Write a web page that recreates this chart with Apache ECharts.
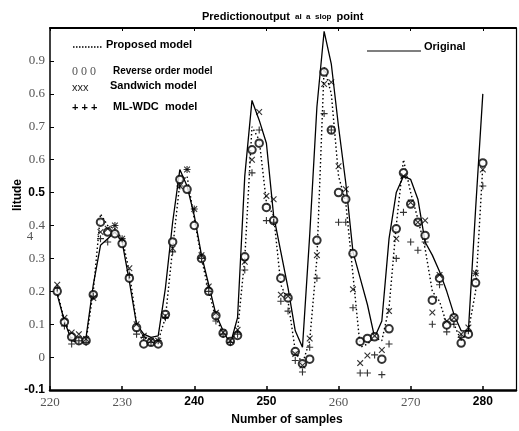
<!DOCTYPE html>
<html>
<head>
<meta charset="utf-8">
<script src="https://cdn.jsdelivr.net/npm/echarts@6/dist/echarts.min.js"></script>
<style>
  html, body { margin: 0; padding: 0; background: #fff; }
  #chart { width: 519px; height: 431px; }
</style>
</head>
<body>
<div id="chart"></div>
<script>
// sample number of each point
var samples = [221, 222, 223, 224, 225, 226, 227, 228, 229, 230,
               231, 232, 233, 234, 235, 236, 237, 238, 239, 240,
               241, 242, 243, 244, 245, 246, 247, 248, 249, 250,
               251, 252, 253, 254, 255, 256, 257, 258, 259, 260,
               261, 262, 263, 264, 265, 266, 267, 268, 269, 270,
               271, 272, 273, 274, 275, 276, 277, 278, 279, 280];

// solid line
var original = [0.19, 0.11, 0.05, 0.045, 0.06, 0.22, 0.34, 0.36, 0.38, 0.35,
                0.23, 0.10, 0.07, 0.06, 0.065, 0.21, 0.41, 0.57, 0.52, 0.43,
                0.31, 0.22, 0.13, 0.08, 0.04, 0.12, 0.55, 0.78, 0.72, 0.65,
                0.43, 0.32, 0.21, 0.08, 0.03, 0.37, 0.76, 0.99, 0.89, 0.70,
                0.53, 0.32, 0.24, 0.16, 0.06, 0.11, 0.36, 0.50, 0.55, 0.54,
                0.48, 0.35, 0.31, 0.26, 0.20, 0.13, 0.08, 0.08, 0.45, 0.80];

// dotted line
var proposed = [0.20, 0.11, 0.06, 0.05, 0.05, 0.20, 0.435, 0.40, 0.39, 0.36,
                0.26, 0.10, 0.06, 0.05, 0.05, 0.12, 0.33, 0.53, 0.55, 0.42,
                0.30, 0.20, 0.12, 0.07, 0.05, 0.08, 0.30, 0.70, 0.66, 0.47,
                0.43, 0.22, 0.17, 0.02, -0.02, 0.05, 0.30, 0.88, 0.80, 0.55,
                0.47, 0.25, 0.03, 0.04, 0.06, 0.05, 0.15, 0.40, 0.60, 0.50,
                0.42, 0.33, 0.20, 0.17, 0.10, 0.10, 0.05, 0.08, 0.20, 0.58];

// o o o
var reverseOrder = [0.20, 0.107, 0.062, 0.05, 0.05, 0.19, 0.41, 0.38, 0.375, 0.345,
                    0.24, 0.09, 0.04, 0.045, 0.04, 0.13, 0.35, 0.54, 0.51, 0.40,
                    0.30, 0.20, 0.126, 0.073, 0.048, 0.066, 0.305, 0.63, 0.65, 0.455,
                    0.415, 0.24, 0.18, 0.017, -0.02, -0.006, 0.355, 0.866, 0.69, 0.50,
                    0.48, 0.315, 0.048, 0.057, 0.062, -0.006, 0.086, 0.39, 0.56, 0.465,
                    0.41, 0.37, 0.173, 0.24, 0.098, 0.12, 0.043, 0.07, 0.226, 0.59];

// x x x
var sandwich = [0.22, 0.12, 0.075, 0.07, 0.055, 0.18, 0.38, 0.39, 0.40, 0.36,
                0.27, 0.10, 0.065, 0.05, 0.05, 0.125, 0.33, 0.52, 0.57, 0.45,
                0.31, 0.215, 0.135, 0.075, 0.05, 0.083, 0.29, 0.60, 0.745, 0.49,
                0.48, 0.19, 0.185, 0.01, -0.025, 0.057, 0.31, 0.83, 0.835, 0.58,
                0.51, 0.206, -0.018, 0.005, 0.065, 0.022, 0.14, 0.36, 0.55, 0.47,
                0.41, 0.415, 0.136, 0.25, 0.11, 0.12, 0.07, 0.09, 0.255, 0.57];

// + + +
var mlWdc = [0.21, 0.095, 0.04, 0.05, 0.045, 0.185, 0.36, 0.35, 0.40, 0.36,
             0.25, 0.07, 0.06, 0.045, 0.05, 0.12, 0.32, 0.52, 0.57, 0.45,
             0.30, 0.20, 0.11, 0.07, 0.045, 0.07, 0.265, 0.56, 0.69, 0.415,
             0.41, 0.17, 0.14, -0.01, -0.045, 0.03, 0.24, 0.74, 0.69, 0.41,
             0.41, 0.15, -0.048, -0.048, 0.007, -0.053, 0.04, 0.30, 0.44, 0.35,
             0.325, 0.35, 0.10, 0.22, 0.077, 0.10, 0.06, 0.08, 0.255, 0.52];

var xTickLabels = ['220', '230', '240', '250', '260', '270', '280'];
var xTickStyles = ['g', 'g', 'b', 'b', 'g', 'g', 'b'];
var yTickLabels = ['-0.1', '0', '0.1', '0.2', '0.3', '0.4', '0.5', '0.6', '0.7', '0.6', '0.9', ''];

function pairs(vals) {
    return samples.map(function (s, i) { return [s, vals[i]]; });
}

var plusPath = 'path://M4.2,0H5.8V4.2H10V5.8H5.8V10H4.2V5.8H0V4.2H4.2Z';
var crossPath = 'path://M1.2,0L5,3.8L8.8,0L10,1.2L6.2,5L10,8.8L8.8,10L5,6.2L1.2,10L0,8.8L3.8,5L0,1.2Z';

var chart = echarts.init(document.getElementById('chart'));
var legendFont = 'bold 11px "Liberation Sans", Arial, sans-serif';
var legendFontSmall = 'bold 10px "Liberation Sans", Arial, sans-serif';

var option = {
    animation: false,
    backgroundColor: '#fff',
    title: {
        text: '{b|Predictionoutput} {s|al  a  slop} {b|point}',
        left: 197,
        top: 3,
        textStyle: {
            rich: {
                b: { fontFamily: 'Liberation Sans', fontWeight: 'bold', fontSize: 11, color: '#000' },
                s: { fontFamily: 'Liberation Sans', fontSize: 8, color: '#000' }
            }
        }
    },
    grid: { left: 50, right: 3, top: 28, bottom: 34 },
    xAxis: [{
        type: 'value',
        min: 220,
        max: 284.6,
        interval: 10,
        splitLine: { show: false },
        axisLine: { onZero: false, lineStyle: { color: '#000', width: 2.5 } },
        axisTick: { inside: true, length: 4, lineStyle: { color: '#000', width: 1.5 } },
        axisLabel: {
            margin: 6,
            showMaxLabel: false,
            formatter: function (v) {
                var i = Math.round((v - 220) / 10);
                if (Math.abs(v - 220 - i * 10) > 0.01 || !xTickLabels[i]) return '';
                return '{' + xTickStyles[i] + '|' + xTickLabels[i] + '}';
            },
            rich: {
                g: { fontFamily: 'Liberation Serif', fontSize: 13, color: '#555' },
                b: { fontFamily: 'Liberation Sans', fontWeight: 'bold', fontSize: 12, color: '#000' }
            }
        },
        name: 'Number of samples',
        nameLocation: 'middle',
        nameGap: 20,
        nameTextStyle: { fontFamily: 'Liberation Sans', fontWeight: 'bold', fontSize: 12, color: '#000', padding: [0, 0, 0, 8] }
    }, {
        type: 'value',
        position: 'top',
        min: 220,
        max: 284.6,
        interval: 10,
        splitLine: { show: false },
        axisLine: { onZero: false, lineStyle: { color: '#000', width: 2 } },
        axisTick: { inside: true, length: 3, lineStyle: { color: '#000' } },
        axisLabel: { show: false }
    }],
    yAxis: [{
        type: 'value',
        min: -0.1,
        max: 1.0,
        interval: 0.1,
        splitLine: { show: false },
        axisLine: { onZero: false, lineStyle: { color: '#000', width: 1.5 } },
        axisTick: { inside: true, length: 4, lineStyle: { color: '#000' } },
        axisLabel: {
            margin: 5,
            formatter: function (v) {
                var i = Math.round((v + 0.1) * 10);
                var t = yTickLabels[i] || '';
                if (t === '-0.1' || t === '0.5') return '{b|' + t + '}';
                return '{g|' + t + '}';
            },
            rich: {
                g: { fontFamily: 'Liberation Serif', fontSize: 13, color: '#555' },
                b: { fontFamily: 'Liberation Sans', fontWeight: 'bold', fontSize: 12, color: '#000' }
            }
        }
    }, {
        type: 'value',
        position: 'right',
        min: -0.1,
        max: 1.0,
        interval: 0.1,
        splitLine: { show: false },
        axisLine: { onZero: false, lineStyle: { color: '#000', width: 1.2 } },
        axisTick: { show: false },
        axisLabel: { show: false }
    }],
    graphic: [
        // y axis name and stray mark
        { type: 'text', x: 18, y: 195, rotation: Math.PI / 2,
          style: { text: 'litude', font: 'bold 12px "Liberation Sans", sans-serif', fill: '#000', align: 'center', verticalAlign: 'middle' } },
        { type: 'text', x: 30, y: 237,
          style: { text: '4', font: '13px "Liberation Serif", serif', fill: '#555', align: 'center', verticalAlign: 'middle' } },
        // legend
        { type: 'line', shape: { x1: 73, y1: 47, x2: 103, y2: 47 },
          style: { stroke: '#000', lineWidth: 1.5, lineDash: [1.5, 1.5] } },
        { type: 'text', x: 106, y: 45, style: { text: 'Proposed model', font: legendFont, fill: '#000', verticalAlign: 'middle' } },
        { type: 'text', x: 72, y: 72, style: { text: '0 0 0', font: '12px "Liberation Serif", serif', fill: '#555', verticalAlign: 'middle' } },
        { type: 'text', x: 113, y: 71, style: { text: 'Reverse order model', font: legendFontSmall, fill: '#000', verticalAlign: 'middle' } },
        { type: 'text', x: 72, y: 88, style: { text: 'xxx', font: '11px "Liberation Sans", sans-serif', fill: '#222', verticalAlign: 'middle' } },
        { type: 'text', x: 110, y: 86, style: { text: 'Sandwich model', font: legendFont, fill: '#000', verticalAlign: 'middle' } },
        { type: 'text', x: 72, y: 108, style: { text: '+ + +', font: legendFont, fill: '#000', verticalAlign: 'middle' } },
        { type: 'text', x: 113, y: 107, style: { text: 'ML-WDC  model', font: legendFont, fill: '#000', verticalAlign: 'middle' } },
        { type: 'line', shape: { x1: 367, y1: 51, x2: 421, y2: 51 },
          style: { stroke: '#000', lineWidth: 1.2 } },
        { type: 'text', x: 424, y: 47, style: { text: 'Original', font: legendFont, fill: '#000', verticalAlign: 'middle' } }
    ],
    series: [{
        name: 'Original',
        type: 'line',
        data: pairs(original),
        showSymbol: false,
        lineStyle: { color: '#000', width: 1.3 },
        z: 3
    }, {
        name: 'Proposed model',
        type: 'line',
        data: pairs(proposed),
        showSymbol: false,
        lineStyle: { color: '#000', width: 1.4, type: [1.5, 2.5] },
        z: 3
    }, {
        name: 'Reverse order model',
        type: 'scatter',
        data: pairs(reverseOrder),
        symbol: 'emptyCircle',
        symbolSize: 7.5,
        itemStyle: { color: '#000', borderColor: '#000', borderWidth: 1.2 },
        z: 4
    }, {
        name: 'Sandwich model',
        type: 'scatter',
        data: pairs(sandwich),
        symbol: crossPath,
        symbolSize: 6.5,
        itemStyle: { color: '#000' },
        z: 4
    }, {
        name: 'ML-WDC model',
        type: 'scatter',
        data: pairs(mlWdc),
        symbol: plusPath,
        symbolSize: 7,
        itemStyle: { color: '#000' },
        z: 4
    }]
};

chart.setOption(option);
</script>
</body>
</html>
